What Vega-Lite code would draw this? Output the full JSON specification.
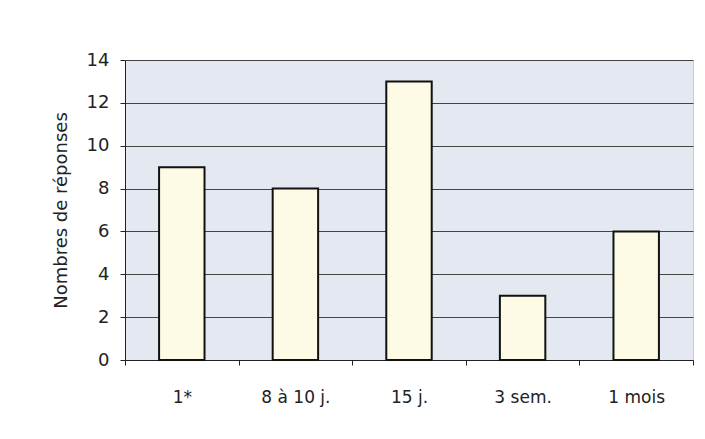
{
  "$schema": "https://vega.github.io/schema/vega-lite/v6.json",
  "autosize": {"type": "none"},
  "width": 568,
  "height": 300,
  "padding": {"left": 125, "top": 60, "right": 12, "bottom": 79},
  "background": "white",
  "data": {"values": [
    {"delai": "1*", "n": 9},
    {"delai": "8 à 10 j.", "n": 8},
    {"delai": "15 j.", "n": 13},
    {"delai": "3 sem.", "n": 3},
    {"delai": "1 mois", "n": 6}
  ]},
  "mark": {"type": "bar", "fill": "#fdfbe6", "stroke": "#111111", "strokeWidth": 2, "width": {"band": 0.4}},
  "encoding": {
    "x": {"field": "delai", "type": "nominal", "sort": null,
      "scale": {"paddingInner": 0, "paddingOuter": 0},
      "axis": {"title": null, "labelAngle": 0, "tickBand": "extent", "grid": false,
        "domainColor": "#222", "tickColor": "#222", "tickSize": 5, "labelPadding": 24,
        "labelFont": "DejaVu Sans", "labelFontSize": 17, "labelColor": "#222"}},
    "y": {"field": "n", "type": "quantitative",
      "scale": {"domain": [0, 14], "nice": false},
      "axis": {"title": "Nombres de réponses", "values": [0, 2, 4, 6, 8, 10, 12, 14],
        "grid": true, "gridColor": "#444444", "gridWidth": 1,
        "domainColor": "#222", "tickColor": "#222", "tickSize": 5, "labelPadding": 11,
        "labelFont": "DejaVu Sans", "labelFontSize": 18, "labelColor": "#222",
        "titleFont": "DejaVu Sans", "titleFontSize": 18, "titleFontWeight": "normal",
        "titleColor": "#222", "titlePadding": 16}}
  },
  "config": {"view": {"fill": "#e4e9f1", "stroke": "#c8ccd4"}}
}
